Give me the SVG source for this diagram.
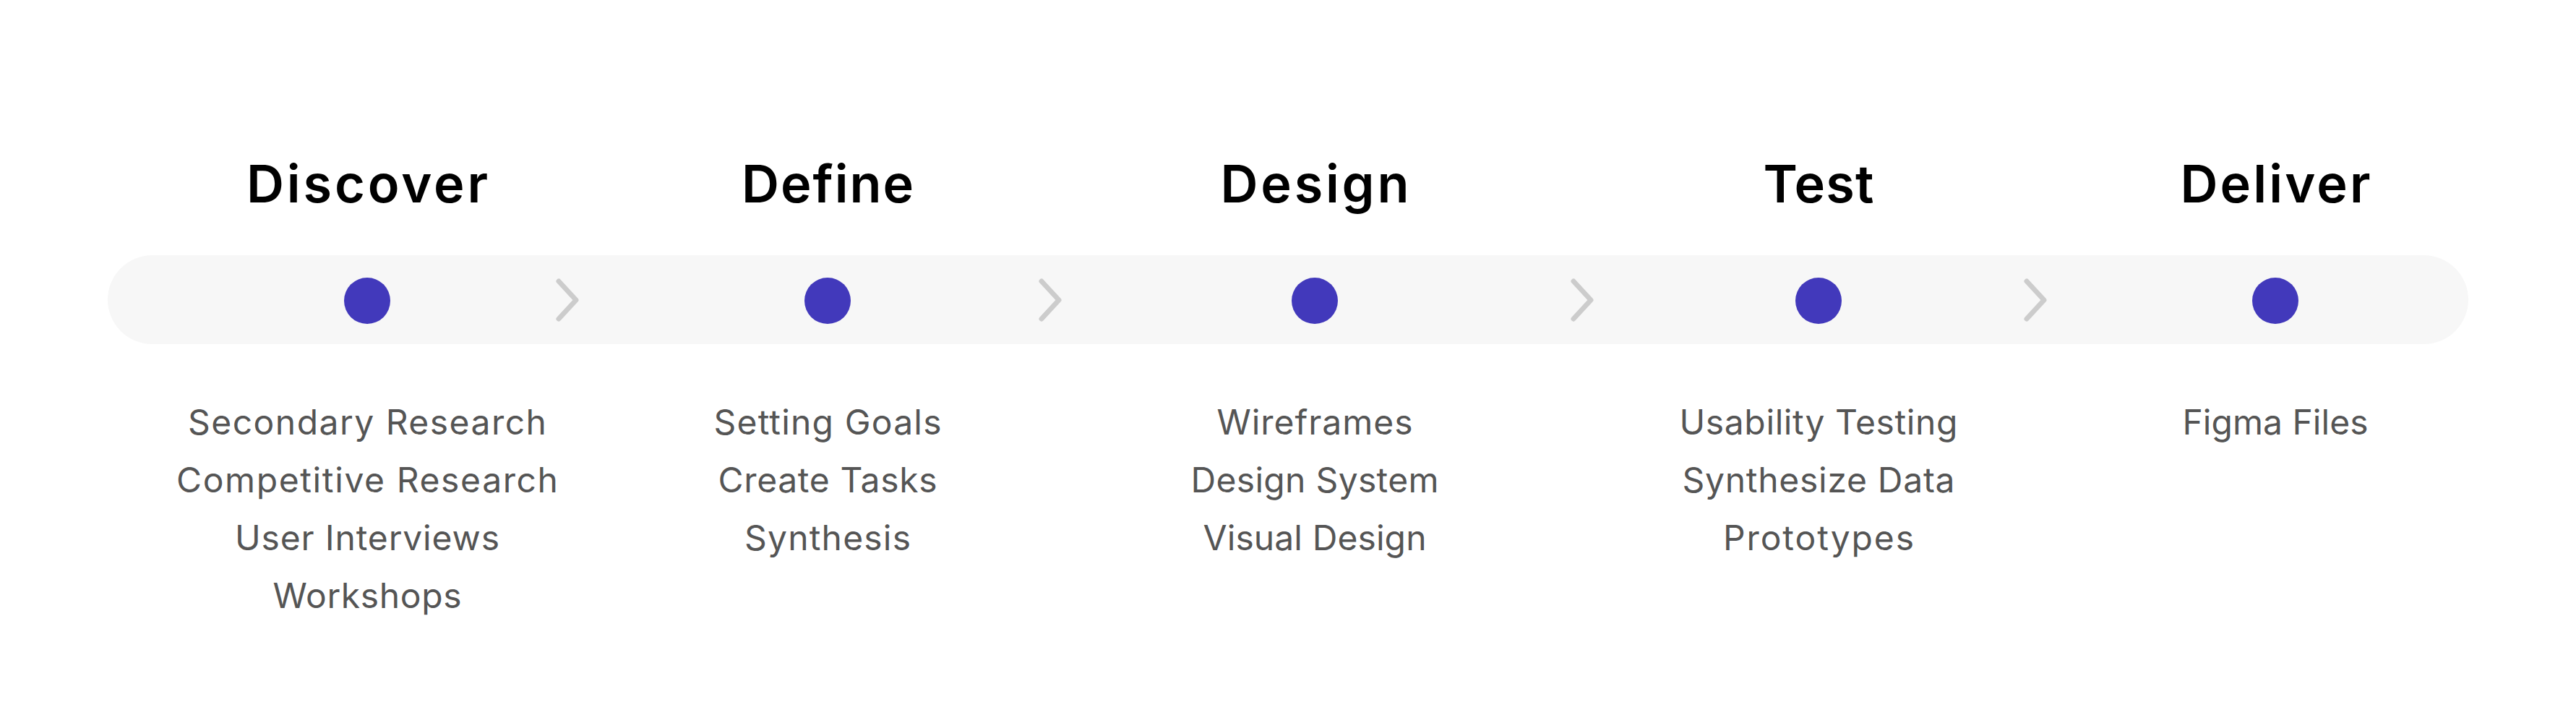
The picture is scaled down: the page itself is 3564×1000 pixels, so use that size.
<svg xmlns="http://www.w3.org/2000/svg" width="3564" height="1000" viewBox="0 0 3564 1000">
  <style>
    .head { font-family: Inter, "Liberation Sans", sans-serif; font-weight: 600; font-size: 72px; fill: #000000; text-anchor: middle; }
    .item { font-family: Inter, "Liberation Sans", sans-serif; font-weight: 400; font-size: 48px; fill: #555555; text-anchor: middle; }
    .dot { fill: #4239BB; }
    .chev { fill: none; stroke: #CCCCCC; stroke-width: 7; stroke-linecap: round; stroke-linejoin: round; }
  </style>
  <rect width="3564" height="1000" fill="#FFFFFF"/>
  <rect id="track" x="149" y="353" width="3266" height="123" rx="61.5" fill="#F7F7F7"/>

  <g id="connectors">
    <path class="chev" d="M773 389 L797 415 L773 441"/>
    <path class="chev" d="M1441 389 L1465 415 L1441 441"/>
    <path class="chev" d="M2177 389 L2201 415 L2177 441"/>
    <path class="chev" d="M2804 389 L2828 415 L2804 441"/>
  </g>

  <g id="discover">
    <text class="head" x="508" y="280" textLength="334">Discover</text>
    <circle class="dot" cx="508" cy="416" r="32"/>
    <text class="item" x="508" y="601" textLength="496">Secondary Research</text>
    <text class="item" x="508" y="681" textLength="528">Competitive Research</text>
    <text class="item" x="508" y="761" textLength="366">User Interviews</text>
    <text class="item" x="508" y="841" textLength="261">Workshops</text>
  </g>

  <g id="define">
    <text class="head" x="1145" y="280" textLength="238">Define</text>
    <circle class="dot" cx="1145" cy="416" r="32"/>
    <text class="item" x="1145" y="601" textLength="315">Setting Goals</text>
    <text class="item" x="1145" y="681" textLength="303">Create Tasks</text>
    <text class="item" x="1145" y="761" textLength="230">Synthesis</text>
  </g>

  <g id="design">
    <text class="head" x="1819" y="280" textLength="261">Design</text>
    <circle class="dot" cx="1819" cy="416" r="32"/>
    <text class="item" x="1819" y="601" textLength="271">Wireframes</text>
    <text class="item" x="1819" y="681" textLength="343">Design System</text>
    <text class="item" x="1819" y="761" textLength="309">Visual Design</text>
  </g>

  <g id="test">
    <text class="head" x="2516" y="280" textLength="153">Test</text>
    <circle class="dot" cx="2516" cy="416" r="32"/>
    <text class="item" x="2516" y="601" textLength="385">Usability Testing</text>
    <text class="item" x="2516" y="681" textLength="377">Synthesize Data</text>
    <text class="item" x="2516" y="761" textLength="264">Prototypes</text>
  </g>

  <g id="deliver">
    <text class="head" x="3148" y="280" textLength="263">Deliver</text>
    <circle class="dot" cx="3148" cy="416" r="32"/>
    <text class="item" x="3148" y="601" textLength="257">Figma Files</text>
  </g>
</svg>
